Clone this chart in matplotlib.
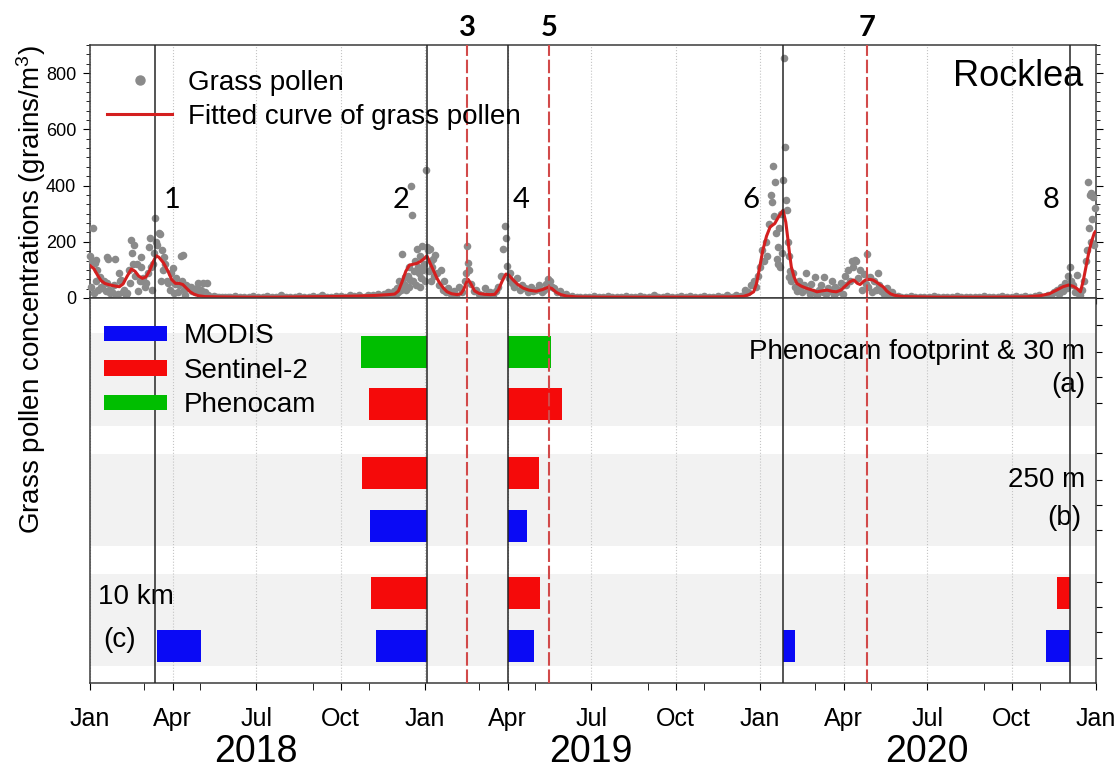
import numpy as np
import matplotlib
matplotlib.use("Agg")
import matplotlib.pyplot as plt
import matplotlib.dates as mdates
import matplotlib.transforms as mtransforms
from matplotlib.patches import Patch
from matplotlib.lines import Line2D
from matplotlib.ticker import AutoMinorLocator

plt.rcParams['font.family'] = ['Liberation Sans', 'DejaVu Sans']
plt.rcParams['mathtext.fontset'] = 'custom'
plt.rcParams['mathtext.rm'] = 'Liberation Sans'
plt.rcParams['mathtext.default'] = 'regular'

t0 = np.datetime64('2018-01-01')

# daily grass pollen counts (day from 1 Jan 2018, grains/m3), pollen seasons
season_2018 = [(0,150),(1,40),(2,130),(3,250),(4,18),(5,125),(6,135),(7,60),(8,100),(9,30),(11,75),(12,40),(13,35),
               (15,60),(17,25),(18,145),(19,52),(20,140),(21,30),(22,18),(24,20),(26,45),(27,140),(28,10),(30,15),
               (31,90),(33,60),(34,64),(36,20),(37,29),(39,10),(40,18),(42,100),(43,55),(45,205),(46,160),(47,120),
               (48,188),(49,80),(51,120),(52,25),(54,60),(55,110),(56,147),(57,60),(58,70),(60,40),(61,55),(63,90),
               (64,182),(65,212),(66,110),(67,30),(69,120),(70,160),(71,283),(72,200),(73,190),(75,230),(76,229),
               (77,60),(78,170),(79,100),(81,145),(82,120),(84,60),(85,52),(87,30),(88,90),(90,105),(91,18),(93,50),
               (94,70),(96,20),(97,45),(99,150),(100,60),(101,152),(102,30),(103,12),(105,45),(108,40),(110,40),
               (111,25),(114,20),(117,35),(118,52),(120,15),(121,29),(123,55),(125,20),(127,54),(129,12),(132,5),
               (135,6),(138,4),(141,3),(144,5),(147,2),(150,4)]
season_2019 = [(305,8),(308,12),(311,6),(314,15),(317,5),(320,15),(323,9),(325,20),(328,10),(331,25),(333,14),
               (334,35),(336,20),(337,60),(339,28),(340,158),(342,50),(343,75),(344,30),(346,80),(347,40),(348,110),
               (349,65),(350,400),(351,294),(352,60),(353,95),(354,130),(355,45),(356,175),(357,110),(358,90),
               (359,150),(360,40),(361,70),(362,185),(363,100),(364,120),(365,60),(366,456),(367,180),(368,170),
               (369,95),(370,175),(371,130),(372,60),(373,110),(374,140),(375,80),(376,152),(378,90),(380,45),
               (382,100),(384,30),(386,60),(388,20),(390,35),(393,15),(396,25),(399,8),(402,40),(405,20),(408,60),
               (410,90),(411,186),(412,124),(413,100),(415,50),(418,25),(421,30),(424,15),(427,10),(430,35),(433,12),
               (436,20),(439,10),(442,25),(445,40),(448,80),(450,176),(452,257),(453,215),(454,115),(456,70),(458,90),
               (460,55),(462,40),(465,70),(468,30),(471,45),(474,35),(477,20),(480,40),(483,25),(486,30),(489,45),
               (492,20),(495,30),(497,50),(499,68),(501,60),(503,40),(506,35),(509,20),(512,25),(515,10),(518,15),
               (521,5),(525,8),(530,4)]
season_2020 = [(712,10),(714,30),(717,20),(720,45),(723,60),(726,40),(728,80),(730,110),(732,170),(734,130),(736,200),
               (738,150),(740,262),(742,365),(743,340),(744,468),(745,290),(746,412),(747,230),(748,140),(749,180),
               (750,120),(751,250),(752,110),(753,300),(754,160),(755,421),(756,853),(757,537),(758,350),(759,312),
               (760,200),(761,76),(762,150),(763,95),(764,60),(766,88),(768,40),(770,25),(772,60),(774,35),(776,20),
               (778,45),(780,90),(782,30),(784,15),(786,50),(788,20),(790,75),(792,10),(794,30),(796,45),(798,20),
               (800,75),(802,15),(804,35),(806,25),(808,60),(810,10),(812,40),(814,20),(816,30),(818,55),(820,15),
               (822,80),(824,45),(826,100),(828,60),(830,130),(831,110),(833,135),(835,130),(837,70),(839,100),
               (841,30),(843,85),(845,50),(846,158),(848,40),(850,75),(852,20),(854,60),(856,30),(858,90),(860,45),
               (862,25),(865,15),(868,35),(871,10),(874,20),(877,5),(880,8)]
season_2021 = [(1042,5),(1044,12),(1047,8),(1050,20),(1053,30),(1056,15),(1058,40),(1060,25),(1062,55),(1064,35),
               (1066,80),(1068,111),(1069,60),(1071,45),(1073,20),(1075,82),(1077,15),(1079,10),(1081,30),(1083,60),
               (1085,130),(1086,170),(1087,412),(1088,250),(1089,365),(1090,200),(1091,372),(1092,280),(1093,360),
               (1094,190),(1095,319)]

# off-season counts, every 5 days
off_2018 = [3,6,2,5,4,8,3,2,6,4,5,9,3,4,2,7,5,3,6,4,10,5,3,8,6,4,12,7,9,5,10]
off_2019 = [3,5,2,6,4,3,8,5,2,4,6,3,5,7,2,4,9,3,5,6,2,4,8,3,6,5,2,7,4,3,6,5,9,4,12,8]
off_2020 = [4,2,6,3,5,2,4,7,3,2,5,3,6,4,2,5,3,4,6,2,5,3,7,4,3,6,5,8,4,6,9,5]

# fitted curve (day, grains/m3)
fit_curve = [(0,115),(4,105),(8,82),(12,62),(16,52),(22,46),(28,42),(32,40),(36,50),(40,75),(45,103),(49,95),(53,78),
             (57,70),(61,75),(65,98),(69,130),(72,150),(75,145),(80,125),(85,95),(89,65),(93,52),(97,52),(101,48),
             (105,35),(109,22),(113,14),(118,8),(125,5),(140,4),(170,3),(200,3),(230,4),(260,5),(290,7),(310,9),
             (325,12),(332,14),(336,25),(340,58),(344,95),(348,117),(352,120),(356,123),(360,130),(364,140),(367,150),
             (371,120),(374,99),(378,70),(381,53),(385,35),(389,22),(394,15),(400,12),(404,15),(407,30),(410,55),
             (412,66),(415,50),(419,25),(424,16),(430,13),(436,12),(441,13),(445,30),(449,60),(453,85),(456,82),
             (461,64),(466,48),(472,35),(478,28),(486,24),(493,30),(499,38),(503,34),(508,20),(513,12),(519,7),
             (530,4),(560,3),(600,3),(650,3),(700,4),(712,6),(718,12),(723,22),(726,50),(729,100),(733,170),(737,220),
             (741,253),(746,265),(750,288),(755,312),(758,270),(760,217),(762,160),(764,111),(767,75),(770,52),
             (775,42),(781,34),(787,28),(792,22),(797,25),(803,28),(808,24),(813,22),(818,28),(824,46),(828,58),
             (832,64),(836,52),(839,48),(843,60),(846,66),(850,66),(853,64),(857,56),(861,46),(864,40),(868,25),
             (872,15),(876,10),(885,5),(920,3),(980,3),(1020,4),(1035,8),(1045,15),(1053,28),(1060,40),(1066,46),
             (1071,42),(1075,34),(1079,22),(1082,60),(1085,111),(1088,160),(1091,200),(1094,230),(1095,235)]

# pollen peaks (solid) and other events (dashed)
peak_dates = ['2018-03-13', '2019-01-03', '2019-04-01', '2020-01-26', '2020-12-04']
peak_labels = ['1', '2', '4', '6', '8']
event_dates = ['2019-02-16', '2019-05-16', '2020-04-26']
event_labels = ['3', '5', '7']

# detection periods per row: (row, sensor, start, end)
periods = [
    ('a1', 'Phenocam', '2018-10-23', '2019-01-03'), ('a1', 'Phenocam', '2019-04-01', '2019-05-18'),
    ('a2', 'Sentinel-2', '2018-11-01', '2019-01-03'), ('a2', 'Sentinel-2', '2019-04-01', '2019-05-30'),
    ('b1', 'Sentinel-2', '2018-10-24', '2019-01-03'), ('b1', 'Sentinel-2', '2019-04-01', '2019-05-05'),
    ('b2', 'MODIS', '2018-11-02', '2019-01-03'), ('b2', 'MODIS', '2019-04-01', '2019-04-22'),
    ('c1', 'Sentinel-2', '2018-11-03', '2019-01-03'), ('c1', 'Sentinel-2', '2019-04-01', '2019-05-06'),
    ('c1', 'Sentinel-2', '2020-11-19', '2020-12-04'),
    ('c2', 'MODIS', '2018-03-15', '2018-05-02'), ('c2', 'MODIS', '2018-11-09', '2019-01-03'),
    ('c2', 'MODIS', '2019-04-01', '2019-04-30'), ('c2', 'MODIS', '2020-01-26', '2020-02-08'),
    ('c2', 'MODIS', '2020-11-08', '2020-12-04'),
]
sensors = ['MODIS', 'Sentinel-2', 'Phenocam']
sensor_color = {'MODIS': '#0a0af5', 'Sentinel-2': '#f50a0a', 'Phenocam': '#00be00'}

# row layout of the lower panel (0 = top of panel)
row_y = {'a1': 54, 'a2': 106, 'b1': 175, 'b2': 228, 'c1': 295, 'c2': 348}
bands = [(35, 128), (156, 248), (276, 368)]
bar_h = 32

grey = '#8a8a8a'
red_line = '#d41f1f'

def to_dates(days):
    return t0 + np.array(days).astype('timedelta64[D]')

def dnum(d):
    return mdates.date2num(np.datetime64(d))

pts = season_2018 + season_2019 + season_2020 + season_2021
pd_days = [p[0] for p in pts] + list(range(153, 306, 5)) + list(range(534, 710, 5)) + list(range(884, 1040, 5))
pd_vals = [p[1] for p in pts] + off_2018 + off_2019 + off_2020
fit_days = [p[0] for p in fit_curve]
fit_vals = [p[1] for p in fit_curve]

fig = plt.figure(figsize=(11.2, 7.73), dpi=100)
ax1 = fig.add_axes([0.0804, 0.6145, 0.8982, 0.3273])
ax2 = fig.add_axes([0.0804, 0.1158, 0.8982, 0.4987])

xmin, xmax = dnum('2018-01-01'), dnum('2021-01-01')

# upper panel: pollen
ax1.scatter(mdates.date2num(to_dates(pd_days)), pd_vals, s=30, color=grey, lw=0, zorder=3, clip_on=False)
ax1.plot(mdates.date2num(to_dates(fit_days)), fit_vals, color=red_line, lw=2.2, zorder=4)
ax1.set_ylim(0, 900)
ax1.set_yticks([0, 200, 400, 600, 800])
ax1.yaxis.set_minor_locator(AutoMinorLocator(6))
ax1.tick_params(axis='y', which='both', left=True, right=True, direction='out', labelsize=13, pad=5)
ax1.tick_params(axis='y', which='major', length=5)
ax1.tick_params(axis='y', which='minor', length=3)

# lower panel: detection periods
for top, bottom in bands:
    ax2.axhspan(top, bottom, color='#f2f2f2', lw=0, zorder=0.2)
for row, sensor, start, end in periods:
    s, e = dnum(start), dnum(end)
    ax2.barh(row_y[row], e - s, left=s, height=bar_h, color=sensor_color[sensor], lw=0, zorder=2)
ax2.set_ylim(385.5, 0)
ax2.yaxis.set_ticks_position('right')
ax2.set_yticks([27, 54, 79, 105, 155, 182, 207, 232, 284, 309, 334, 360])
ax2.tick_params(axis='y', labelright=False, direction='out', length=4)

for ax in (ax1, ax2):
    ax.set_xlim(xmin, xmax)
    ax.xaxis.set_major_locator(mdates.MonthLocator(bymonth=[1, 4, 7, 10]))
    ax.xaxis.set_minor_locator(mdates.MonthLocator(bymonth=[3, 5, 9, 11]))
    ax.xaxis.set_major_formatter(mdates.DateFormatter('%b'))
    ax.grid(axis='x', which='major', ls=':', color='#c4c4c4', lw=0.8, zorder=0.5)
    ax.grid(False, axis='x', which='minor')
    for sp in ax.spines.values():
        sp.set_color('#3a3a3a')
        sp.set_linewidth(1.1)
    for d in peak_dates:
        ax.axvline(dnum(d), color='#262626', lw=1.1, zorder=5)
    for d in event_dates:
        ax.axvline(dnum(d), color='#d24a4a', lw=1.5, dashes=(6.5, 1.8), zorder=5)

ax1.tick_params(axis='x', which='both', labelbottom=False, length=4, direction='out')
ax2.tick_params(axis='x', which='both', direction='out', length=5, labelsize=18, pad=12)

# year labels under the month ticks
trans_year = mtransforms.blended_transform_factory(ax2.transData, fig.transFigure)
for yr in ['2018', '2019', '2020']:
    fig.text(dnum(yr + '-07-01'), 0.027, yr, transform=trans_year, ha='center', va='center', fontsize=27)

# event numbers
num_font = ['Lato', 'DejaVu Sans']
shift = [17, -26, 13, -32, -19]
for d, lab, dx in zip(peak_dates, peak_labels, shift):
    ax1.annotate(lab, xy=(dnum(d), 348), xytext=(dx * 0.72, 0), textcoords='offset points',
                 ha='center', va='center', fontsize=21, family=num_font)
trans_top = mtransforms.blended_transform_factory(ax1.transData, ax1.transAxes)
for d, lab in zip(event_dates, event_labels):
    ax1.text(dnum(d), 1.067, lab, transform=trans_top, ha='center', va='center',
             fontsize=21, fontweight='bold', family=num_font, clip_on=False)

ax1.text(0.987, 0.874, 'Rocklea', transform=ax1.transAxes, ha='right', va='center', fontsize=26)

h1 = [Line2D([], [], marker='o', ls='none', color=grey, ms=6.5),
      Line2D([], [], color=red_line, lw=2.2)]
ax1.legend(h1, ['Grass pollen', 'Fitted curve of grass pollen'], loc='upper left', numpoints=1,
           bbox_to_anchor=(0.017, 0.902), frameon=False, fontsize=20, handlelength=2.35,
           handletextpad=0.55, labelspacing=0.3, borderpad=0, borderaxespad=0)

h2 = [Patch(facecolor=sensor_color[s], lw=0) for s in sensors]
ax2.legend(h2, sensors, loc='upper left', bbox_to_anchor=(0.014, 0.934), frameon=False, fontsize=20,
           handlelength=2.27, handleheight=0.47, handletextpad=0.58, labelspacing=0.3,
           borderpad=0, borderaxespad=0)

# resolution labels
tr2 = mtransforms.blended_transform_factory(ax2.transAxes, ax2.transData)
ax2.text(0.989, 54, 'Phenocam footprint & 30 m', transform=tr2, ha='right', va='center', fontsize=20)
ax2.text(0.989, 87, '(a)', transform=tr2, ha='right', va='center', fontsize=20)
ax2.text(0.989, 182, '250 m', transform=tr2, ha='right', va='center', fontsize=20)
ax2.text(0.985, 220, '(b)', transform=tr2, ha='right', va='center', fontsize=20)
ax2.text(0.008, 299, '10 km', transform=tr2, ha='left', va='center', fontsize=20)
ax2.text(0.013, 342, '(c)', transform=tr2, ha='left', va='center', fontsize=20)

fig.text(0.028, 0.625, 'Grass pollen concentrations (grains/m$^3$)', rotation=90,
         ha='center', va='center', fontsize=20)

fig.savefig('out.png', dpi=100)
